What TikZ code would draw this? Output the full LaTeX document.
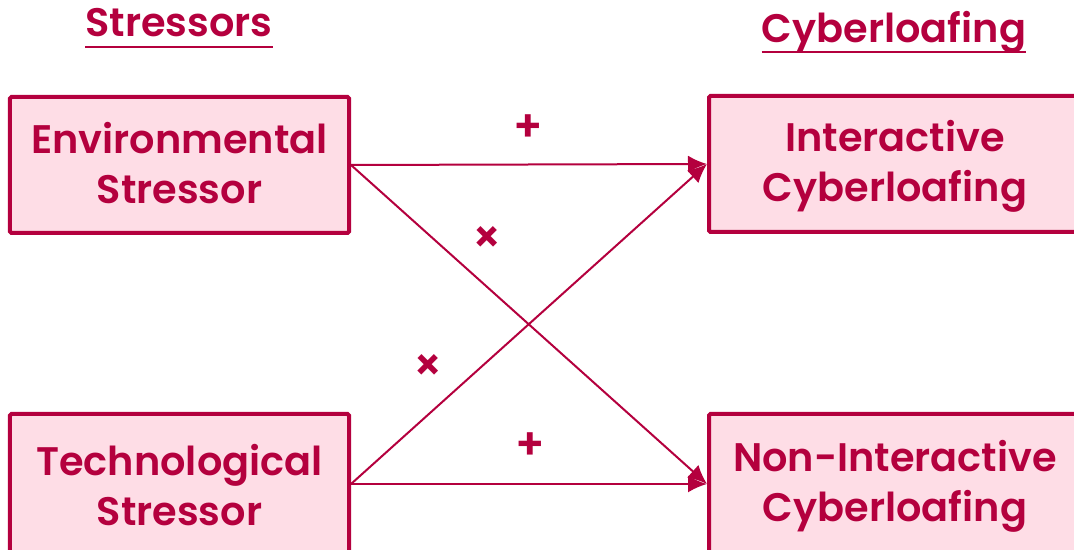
\documentclass[tikz,border=0pt]{standalone}
\usepackage{fontspec}
\setmainfont{Poppins}[BoldFont={Poppins SemiBold}]
\usetikzlibrary{arrows.meta}
\definecolor{crim}{HTML}{B4003E}
\definecolor{pinkfill}{HTML}{FEDDE6}
\begin{document}
\begin{tikzpicture}[x=1bp,y=-1bp,
  box/.style={draw=crim, fill=pinkfill, line width=4bp, inner sep=0pt, rounded corners=1.5bp},
  boxtext/.style={inner sep=0pt, align=center, text=crim, font=\fontsize{40}{50}\selectfont\bfseries},
  ttl/.style={inner sep=0pt, anchor=base, text=crim, font=\fontsize{40}{50}\selectfont\bfseries},
  uline/.style={draw=crim, line width=2.5bp},
  link/.style={draw=crim, line width=2bp, -{Latex[length=19bp,width=17bp]}},
  sign/.style={text=crim, inner sep=0pt, font=\fontsize{44}{44}\selectfont\bfseries}]
\useasboundingbox (0,0) rectangle (1074,550);
\clip (0,0) rectangle (1074,550);
\node[box, minimum width=339bp, minimum height=136bp] (env) at (179.5,165) {};
\node[box, minimum width=339bp, minimum height=140bp] (tech) at (179.5,484) {};
\node[box, minimum width=372bp, minimum height=136bp] (int) at (895,164) {};
\node[box, minimum width=372bp, minimum height=140bp] (non) at (895,484) {};
\node[boxtext] (envt) at (179.5,163) {Environmental\\Stressor};
\node[boxtext] (techt) at (179.5,485) {Technological\\Stressor};
\node[boxtext] (intt) at (895,166) {Interactive\\Cyberloafing};
\node[boxtext] (nont) at (895,486) {Non-Interactive\\Cyberloafing};
\node[ttl] (t1) at (179,37) {Stressors};
\node[ttl] (t2) at (894,43) {Cyberloafing};
\draw[uline] ([yshift=-10bp]t1.base west) -- ([yshift=-10bp]t1.base east);
\draw[uline] ([yshift=-9bp]t2.base west) -- ([yshift=-9bp]t2.base east);
\draw[link] (env.east) -- (int.west);
\draw[link] (env.east) -- (non.west);
\draw[link] (tech.east) -- (int.west);
\draw[link] (tech.east) -- (non.west);
\node[sign] (s1) at (528,128) {+};
\node[sign] (s2) at (487,240) {×};
\node[sign] (s3) at (428,368) {×};
\node[sign] (s4) at (530,446) {+};
\end{tikzpicture}
\end{document}
